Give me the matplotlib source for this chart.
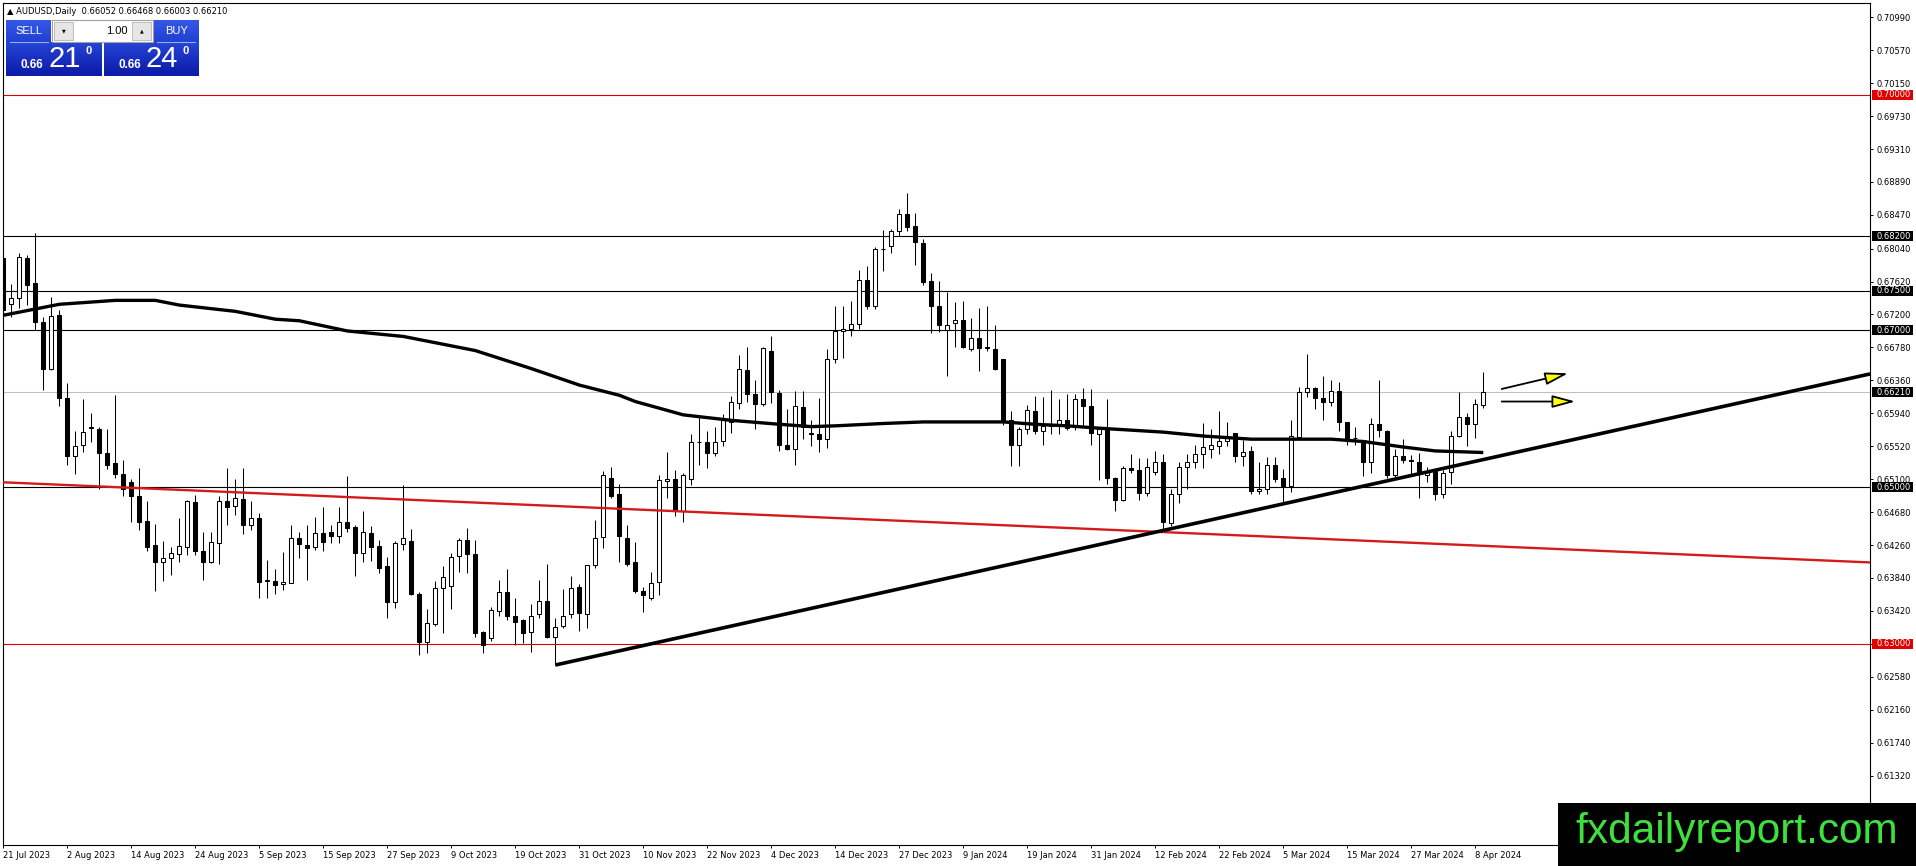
import numpy as np
import matplotlib
matplotlib.use("Agg")
import matplotlib.pyplot as plt
import matplotlib.transforms as mtransforms
from matplotlib.patches import Rectangle, FancyArrowPatch
from matplotlib.colors import LinearSegmentedColormap

W, H, DPI = 1916, 866, 100

# daily bars, 21 Jul 2023 .. 9 Apr 2024 (bar index = position on the time axis)
date_labels = ["21 Jul 2023", "2 Aug 2023", "14 Aug 2023", "24 Aug 2023", "5 Sep 2023",
               "15 Sep 2023", "27 Sep 2023", "9 Oct 2023", "19 Oct 2023", "31 Oct 2023",
               "10 Nov 2023", "22 Nov 2023", "4 Dec 2023", "14 Dec 2023", "27 Dec 2023",
               "9 Jan 2024", "19 Jan 2024", "31 Jan 2024", "12 Feb 2024", "22 Feb 2024",
               "5 Mar 2024", "15 Mar 2024", "27 Mar 2024", "8 Apr 2024"]
label_step = 8

opens = [0.6792, 0.6734, 0.6741, 0.6792, 0.6760, 0.6710, 0.6651, 0.6719, 0.6614, 0.6540,
         0.6554, 0.6575, 0.6574, 0.6544, 0.6530, 0.6516, 0.6506, 0.6489, 0.6457, 0.6426,
         0.6404, 0.6409, 0.6414, 0.6423, 0.6481, 0.6418, 0.6404, 0.6429, 0.6482, 0.6476,
         0.6485, 0.6452, 0.6461, 0.6380, 0.6380, 0.6376, 0.6378, 0.6435, 0.6426, 0.6423,
         0.6441, 0.6442, 0.6438, 0.6455, 0.6449, 0.6416, 0.6441, 0.6425, 0.6399, 0.6353,
         0.6427, 0.6431, 0.6364, 0.6302, 0.6325, 0.6371, 0.6374, 0.6412, 0.6433, 0.6415,
         0.6315, 0.6308, 0.6342, 0.6366, 0.6336, 0.6331, 0.6315, 0.6338, 0.6355, 0.6309,
         0.6323, 0.6338, 0.6372, 0.6338, 0.6400, 0.6436, 0.6511, 0.6491, 0.6435, 0.6404,
         0.6368, 0.6359, 0.6379, 0.6508, 0.6510, 0.6469, 0.6510, 0.6557, 0.6557, 0.6543,
         0.6559, 0.6583, 0.6607, 0.6649, 0.6618, 0.6606, 0.6674, 0.6620, 0.6554, 0.6549,
         0.6602, 0.6568, 0.6568, 0.6561, 0.6663, 0.6699, 0.6702, 0.6708, 0.6764, 0.6731,
         0.6803, 0.6807, 0.6827, 0.6848, 0.6833, 0.6811, 0.6763, 0.6731, 0.6700, 0.6709,
         0.6713, 0.6676, 0.6690, 0.6678, 0.6676, 0.6663, 0.6585, 0.6553, 0.6574, 0.6597,
         0.6571, 0.6578, 0.6580, 0.6586, 0.6576, 0.6612, 0.6603, 0.6567, 0.6575, 0.6512,
         0.6484, 0.6524, 0.6522, 0.6492, 0.6519, 0.6532, 0.6454, 0.6491, 0.6525, 0.6532,
         0.6542, 0.6549, 0.6552, 0.6559, 0.6569, 0.6540, 0.6546, 0.6495, 0.6498, 0.6528,
         0.6511, 0.6501, 0.6564, 0.6621, 0.6626, 0.6613, 0.6608, 0.6623, 0.6583, 0.6562,
         0.6560, 0.6532, 0.6580, 0.6571, 0.6515, 0.6540, 0.6534, 0.6532, 0.6515, 0.6521,
         0.6491, 0.6519, 0.6565, 0.6589, 0.6580, 0.66052]
highs = [0.6796, 0.6759, 0.6798, 0.6796, 0.6824, 0.6717, 0.6742, 0.6726, 0.6632, 0.6572,
         0.6612, 0.6595, 0.6576, 0.6574, 0.6617, 0.6535, 0.6510, 0.6524, 0.6482, 0.6453,
         0.6431, 0.6423, 0.6460, 0.6484, 0.6490, 0.6442, 0.6442, 0.6489, 0.6524, 0.6510,
         0.6524, 0.6482, 0.6467, 0.6407, 0.6396, 0.6417, 0.6452, 0.6442, 0.6451, 0.6462,
         0.6475, 0.6452, 0.6475, 0.6514, 0.6451, 0.6469, 0.6450, 0.6433, 0.6411, 0.6431,
         0.6502, 0.6447, 0.6366, 0.6344, 0.6380, 0.6399, 0.6416, 0.6435, 0.6448, 0.6433,
         0.6316, 0.6347, 0.6381, 0.6396, 0.6358, 0.6332, 0.6351, 0.6381, 0.6402, 0.6333,
         0.6370, 0.6386, 0.6376, 0.6401, 0.6458, 0.6521, 0.6525, 0.6504, 0.6452, 0.6430,
         0.6372, 0.6392, 0.6515, 0.6545, 0.6522, 0.6518, 0.6568, 0.6590, 0.6572, 0.6576,
         0.6593, 0.6616, 0.6668, 0.6679, 0.6637, 0.6678, 0.6693, 0.6624, 0.6600, 0.6623,
         0.6623, 0.6586, 0.6613, 0.6676, 0.6731, 0.6731, 0.6737, 0.6777, 0.6782, 0.6806,
         0.6828, 0.6829, 0.6854, 0.6875, 0.6850, 0.6816, 0.6773, 0.6763, 0.6749, 0.6736,
         0.6737, 0.6715, 0.6728, 0.6731, 0.6707, 0.6663, 0.6597, 0.6577, 0.6605, 0.6616,
         0.6615, 0.6624, 0.6612, 0.6618, 0.6618, 0.6626, 0.6625, 0.6577, 0.6612, 0.6513,
         0.6527, 0.6542, 0.6537, 0.6537, 0.6546, 0.6542, 0.6497, 0.6532, 0.6542, 0.6554,
         0.6581, 0.6574, 0.6597, 0.6583, 0.6569, 0.6560, 0.6552, 0.6532, 0.6538, 0.6538,
         0.6523, 0.6585, 0.6627, 0.6670, 0.6628, 0.6642, 0.6637, 0.6634, 0.6583, 0.6576,
         0.6560, 0.6588, 0.6637, 0.6573, 0.6549, 0.6561, 0.6541, 0.6544, 0.6526, 0.6521,
         0.6522, 0.6571, 0.6621, 0.6594, 0.6612, 0.66468]
lows = [0.6722, 0.6717, 0.6728, 0.6732, 0.6700, 0.6624, 0.6649, 0.6603, 0.6528, 0.6516,
        0.6545, 0.6557, 0.6498, 0.6523, 0.6512, 0.6488, 0.6456, 0.6445, 0.6418, 0.6367,
        0.6380, 0.6388, 0.6405, 0.6413, 0.6413, 0.6381, 0.6403, 0.6402, 0.6451, 0.6464,
        0.6440, 0.6445, 0.6359, 0.6359, 0.6364, 0.6369, 0.6377, 0.6410, 0.6381, 0.6420,
        0.6418, 0.6429, 0.6428, 0.6442, 0.6387, 0.6405, 0.6406, 0.6390, 0.6333, 0.6346,
        0.6420, 0.6362, 0.6286, 0.6288, 0.6323, 0.6314, 0.6344, 0.6392, 0.6390, 0.6309,
        0.6288, 0.6304, 0.6335, 0.6330, 0.6298, 0.6301, 0.6290, 0.6333, 0.6307, 0.6273,
        0.6320, 0.6333, 0.6316, 0.6320, 0.6397, 0.6422, 0.6486, 0.6405, 0.6399, 0.6365,
        0.6340, 0.6356, 0.6362, 0.6486, 0.6463, 0.6455, 0.6503, 0.6528, 0.6524, 0.6540,
        0.6552, 0.6569, 0.6599, 0.6608, 0.6574, 0.6603, 0.6607, 0.6546, 0.6547, 0.6528,
        0.6561, 0.6552, 0.6545, 0.6550, 0.6658, 0.6665, 0.6692, 0.6702, 0.6727, 0.6727,
        0.6776, 0.6799, 0.6820, 0.6826, 0.6783, 0.6758, 0.6696, 0.6698, 0.6642, 0.6679,
        0.6677, 0.6674, 0.6648, 0.6674, 0.6649, 0.6579, 0.6527, 0.6527, 0.6567, 0.6567,
        0.6553, 0.6568, 0.6568, 0.6573, 0.6573, 0.6577, 0.6553, 0.6509, 0.6504, 0.6470,
        0.6482, 0.6518, 0.6483, 0.6489, 0.6515, 0.6445, 0.6450, 0.6479, 0.6498, 0.6524,
        0.6524, 0.6537, 0.6542, 0.6552, 0.6532, 0.6527, 0.6491, 0.6491, 0.6491, 0.6507,
        0.6480, 0.6494, 0.6564, 0.6615, 0.6599, 0.6586, 0.6603, 0.6571, 0.6554, 0.6554,
        0.6514, 0.6518, 0.6564, 0.6511, 0.6513, 0.6530, 0.6517, 0.6486, 0.6506, 0.6484,
        0.6486, 0.6504, 0.6564, 0.6552, 0.6562, 0.66003]
closes = [0.6726, 0.6741, 0.6793, 0.6758, 0.6710, 0.6650, 0.6718, 0.6614, 0.6540, 0.6552,
          0.6570, 0.6576, 0.6544, 0.6528, 0.6516, 0.6498, 0.6488, 0.6455, 0.6424, 0.6404,
          0.6410, 0.6416, 0.6425, 0.6482, 0.6418, 0.6404, 0.6430, 0.6482, 0.6475, 0.6486,
          0.6452, 0.6461, 0.6379, 0.6381, 0.6375, 0.6379, 0.6435, 0.6427, 0.6422, 0.6441,
          0.6430, 0.6437, 0.6455, 0.6448, 0.6416, 0.6442, 0.6423, 0.6397, 0.6353, 0.6428,
          0.6435, 0.6364, 0.6302, 0.6326, 0.6371, 0.6385, 0.6411, 0.6433, 0.6414, 0.6314,
          0.6299, 0.6343, 0.6366, 0.6336, 0.6328, 0.6314, 0.6336, 0.6355, 0.6309, 0.6322,
          0.6335, 0.6371, 0.6339, 0.6401, 0.6435, 0.6515, 0.6489, 0.6437, 0.6402, 0.6367,
          0.6362, 0.6377, 0.6509, 0.6510, 0.6471, 0.6515, 0.6557, 0.6558, 0.6543, 0.6558,
          0.6585, 0.6608, 0.6651, 0.6618, 0.6606, 0.6677, 0.6621, 0.6553, 0.6549, 0.6603,
          0.6577, 0.6569, 0.6561, 0.6663, 0.6699, 0.6702, 0.6708, 0.6764, 0.6731, 0.6804,
          0.6804, 0.6827, 0.6848, 0.6832, 0.6812, 0.6762, 0.6731, 0.6707, 0.6707, 0.6713,
          0.6679, 0.6690, 0.6677, 0.6677, 0.6651, 0.6583, 0.6553, 0.6574, 0.6598, 0.6571,
          0.6578, 0.6580, 0.6586, 0.6575, 0.6612, 0.6603, 0.6569, 0.6574, 0.6512, 0.6484,
          0.6524, 0.6522, 0.6492, 0.6525, 0.6532, 0.6455, 0.6491, 0.6525, 0.6532, 0.6542,
          0.6551, 0.6554, 0.6559, 0.6562, 0.6540, 0.6545, 0.6495, 0.6498, 0.6528, 0.6510,
          0.6501, 0.6565, 0.6621, 0.6626, 0.6613, 0.6608, 0.6623, 0.6583, 0.6561, 0.6562,
          0.6532, 0.6580, 0.6573, 0.6515, 0.6540, 0.6535, 0.6533, 0.6518, 0.6519, 0.6491,
          0.6518, 0.6565, 0.6589, 0.6580, 0.6606, 0.66210]

# moving average, read at a set of bars
ma_bars = [0, 7, 14, 19, 22, 29, 34, 37, 43, 50, 59, 66, 72, 77, 79, 85, 91, 97, 101,
           104, 110, 115, 125, 129, 133, 137, 145, 150, 156, 166, 170, 175, 179, 185]
ma_values = [0.6719, 0.6733, 0.6738, 0.6738, 0.6732, 0.6724, 0.6714, 0.6712, 0.6699,
             0.6692, 0.6674, 0.6651, 0.6630, 0.6617, 0.6609, 0.6592, 0.6585, 0.6580,
             0.6577, 0.6578, 0.6581, 0.6583, 0.6583, 0.6580, 0.6578, 0.6575, 0.6570,
             0.6565, 0.6561, 0.6561, 0.6558, 0.6551, 0.6546, 0.6544]

# drawn objects
black_levels = [0.68200, 0.67500, 0.67000, 0.65000]
red_levels = [0.70000, 0.63000]
last_price = 0.66210
support_bars = [69, 185]
support_prices = [0.6273, 0.6535]
red_trend_bars = [0, 185]
red_trend_prices = [0.6506, 0.6425]
arrow_up = [(187.3, 0.6625), (195.6, 0.6645)]
arrow_flat = [(187.3, 0.6609), (196.5, 0.6609)]

y_ticks = [0.70990, 0.70570, 0.70150, 0.69730, 0.69310, 0.68890, 0.68470, 0.68040,
           0.67620, 0.67200, 0.66780, 0.66360, 0.65940, 0.65520, 0.65100, 0.64680,
           0.64260, 0.63840, 0.63420, 0.63000, 0.62580, 0.62160, 0.61740, 0.61320,
           0.60900]

plt.rcParams['font.family'] = ['DejaVu Sans']

fig = plt.figure(figsize=(W / DPI, H / DPI), dpi=DPI)
fig.patch.set_facecolor('white')
ax = fig.add_axes([3 / W, (H - 845) / H, (1870 - 3) / W, (845 - 3) / H])
XMIN, XMAX = -0.04, 233.34
ax.set_xlim(XMIN, XMAX)
ax.set_ylim(0.60435, 0.71172)

for s in ax.spines.values():
    s.set_linewidth(0.8)
    s.set_color('black')

# horizontal levels
for lv in black_levels:
    ax.axhline(lv, color='black', lw=0.8, zorder=1)
for lv in red_levels:
    ax.axhline(lv, color='#e00000', lw=0.8, zorder=1)
ax.axhline(last_price, color='#c0c0c0', lw=0.8, zorder=1)

# candles
idx = np.arange(len(opens))
o, h, l, c = (np.array(v) for v in (opens, highs, lows, closes))
up = c >= o
ax.vlines(idx, l, h, color='black', lw=0.75, zorder=2)
ax.bar(idx[up], (c - o)[up], bottom=o[up], width=0.5, color='white',
       edgecolor='black', lw=0.75, zorder=3)
ax.bar(idx[~up], (o - c)[~up], bottom=c[~up], width=0.5, color='black',
       edgecolor='black', lw=0.75, zorder=3)

# moving average
ax.plot(ma_bars, ma_values, color='black', lw=2.4, zorder=4, solid_capstyle='butt')


def ray(bars, prices, x_from, x_to):
    k = (prices[1] - prices[0]) / (bars[1] - bars[0])
    return [x_from, x_to], [prices[0] + k * (x_from - bars[0]), prices[0] + k * (x_to - bars[0])]


xs, ys = ray(red_trend_bars, red_trend_prices, XMIN, XMAX)
ax.plot(xs, ys, color='#d41a1a', lw=1.7, zorder=4)
xs, ys = ray(support_bars, support_prices, support_bars[0], XMAX)
ax.plot(xs, ys, color='black', lw=2.6, zorder=4, solid_capstyle='butt')

for a in (arrow_up, arrow_flat):
    ax.add_patch(FancyArrowPatch(a[0], a[1], arrowstyle='-|>,head_length=1.4,head_width=0.38',
                                 mutation_scale=10, shrinkA=0, shrinkB=0, lw=1.3,
                                 edgecolor='black', facecolor='#ffff00', zorder=5))

# axes ticks
ax.yaxis.tick_right()
ax.set_yticks(y_ticks)
ax.set_yticklabels([f'{v:.5f}' for v in y_ticks])
ax.tick_params(axis='y', direction='out', length=2.5, width=0.7, pad=2, labelsize=6)
ax.set_xticks(np.arange(0, len(opens), label_step))
ax.set_xticklabels(date_labels)
ax.tick_params(axis='x', direction='out', length=2.5, width=0.7, pad=1.5, labelsize=6)
for t in ax.get_xticklabels():
    t.set_ha('left')

# price tags on the right scale
trans = mtransforms.blended_transform_factory(ax.transAxes, ax.transData)
tags = [(lv, 'black') for lv in black_levels] + [(lv, '#e00000') for lv in red_levels] + [(last_price, 'black')]
for lv, col in tags:
    ax.add_patch(Rectangle((1.0011, lv - 0.00062), 0.0221, 0.00124, transform=trans,
                           facecolor=col, edgecolor='none', clip_on=False, zorder=6))
    ax.text(1.0033, lv, f'{lv:.5f}', transform=trans, color='white', fontsize=6,
            va='center', ha='left', zorder=7, clip_on=False)

# overlay in pixel coordinates: header, trade panel, watermark
ov = fig.add_axes([0, 0, 1, 1], zorder=10)
ov.axis('off')

ov.text(7, 11, '\u25b2 AUDUSD,Daily  0.66052 0.66468 0.66003 0.66210', fontsize=6,
        va='center', ha='left', color='black')

grad = np.linspace(0, 1, 64).reshape(-1, 1)


def panel(x0, y0, x1, y1, c0, c1):
    cm = LinearSegmentedColormap.from_list('p', [c0, c1])
    ov.imshow(grad, extent=(x0, x1, y1, y0), cmap=cm, aspect='auto',
              interpolation='bilinear', zorder=1)


panel(6, 20, 51, 42, '#3557e6', '#2140d2')
panel(154, 20, 199, 42, '#3557e6', '#2140d2')
panel(6, 42, 102, 76, '#2544d6', '#0c1aa8')
panel(104, 42, 199, 76, '#2544d6', '#0c1aa8')
ov.plot([10, 48], [42, 42], color='#9aaaf0', lw=0.8, zorder=2)
ov.plot([157, 195], [42, 42], color='#9aaaf0', lw=0.8, zorder=2)

ov.add_patch(Rectangle((52, 20), 101, 22, facecolor='white', edgecolor='#a0a0a0', lw=0.8, zorder=2))
ov.add_patch(Rectangle((54, 22), 19, 18, facecolor='#e6e6e6', edgecolor='#b4b4b4', lw=0.6, zorder=3))
ov.add_patch(Rectangle((132, 22), 19, 18, facecolor='#e6e6e6', edgecolor='#b4b4b4', lw=0.6, zorder=3))
ov.text(63.5, 31, '\u25bc', fontsize=3.5, ha='center', va='center', zorder=4)
ov.text(141.5, 31, '\u25b2', fontsize=3.5, ha='center', va='center', zorder=4)
ov.text(128, 30.5, '1.00', fontsize=8, ha='right', va='center', family='Liberation Sans', zorder=4)

wf = dict(color='white', family='Liberation Sans', zorder=4)
ov.text(28.5, 31, 'SELL', fontsize=8, ha='center', va='center', **wf)
ov.text(176.5, 31, 'BUY', fontsize=8, ha='center', va='center', **wf)
ov.text(31.5, 65, '0.66', fontsize=8.5, fontweight='bold', ha='center', va='center', **wf)
ov.text(130, 65, '0.66', fontsize=8.5, fontweight='bold', ha='center', va='center', **wf)
ov.text(64.5, 59, '21', fontsize=21, ha='center', va='center', **wf)
ov.text(162, 59, '24', fontsize=21, ha='center', va='center', **wf)
ov.text(88.5, 51, '0', fontsize=8, fontweight='bold', ha='center', va='center', **wf)
ov.text(185.5, 51, '0', fontsize=8, fontweight='bold', ha='center', va='center', **wf)

ov.add_patch(Rectangle((1558, 803), 358, 63, facecolor='black', edgecolor='none', zorder=5))
ov.text(1575, 843, 'fxdailyreport.com', fontsize=30.5, color='#3ee03e', family='Liberation Sans',
        ha='left', va='baseline', zorder=6)

ov.set_xlim(0, W)
ov.set_ylim(H, 0)

fig.savefig('out.png', dpi=DPI, facecolor='white')
